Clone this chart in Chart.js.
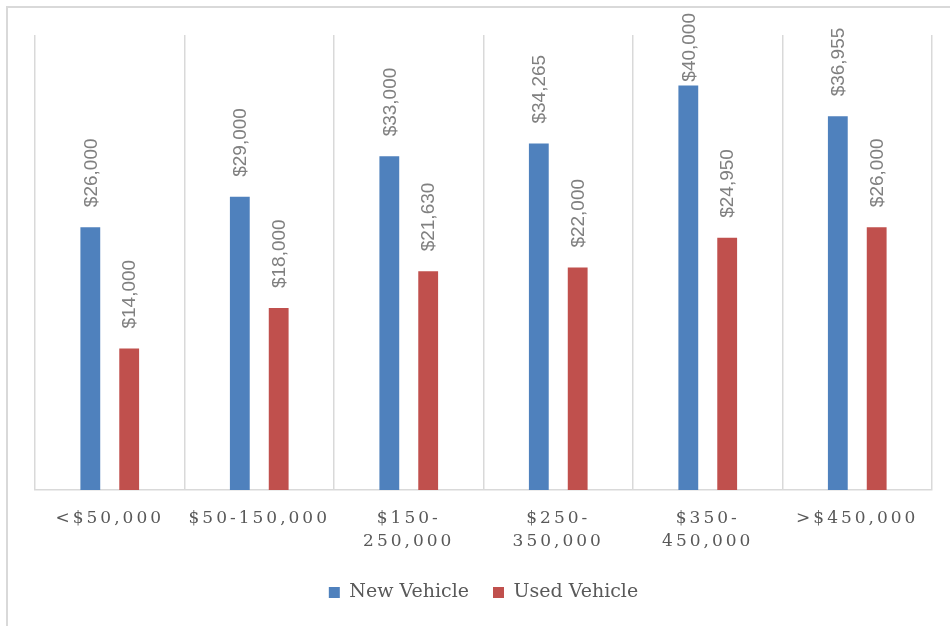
<!DOCTYPE html>
<html>
<head>
<meta charset="utf-8">
<title>Vehicle price by income</title>
<script src="https://cdn.jsdelivr.net/npm/chart.js@4/dist/chart.umd.min.js"></script>
<style>
  html, body { margin: 0; padding: 0; background: #fff; }
  #wrap { position: relative; width: 950px; height: 626px; }
</style>
</head>
<body>
<div id="wrap"><canvas id="myChart"></canvas></div>
<script>
const incomeBands = ["<$50,000", "$50-150,000", ["$150-", "250,000"], ["$250-", "350,000"], ["$350-", "450,000"], ">$450,000"];
const newVehicle = [26000, 29000, 33000, 34265, 40000, 36955];
const usedVehicle = [14000, 18000, 21630, 22000, 24950, 26000];
const seriesNames = ["New Vehicle", "Used Vehicle"];
const seriesColors = ["#4F81BD", "#C0504D"];

function money(v) {
  return "$" + v.toLocaleString("en-US");
}

// outer frame (only left + top edges are visible in the original)
const framePlugin = {
  id: "frame",
  beforeDraw: function(chart) {
    const ctx = chart.ctx;
    ctx.save();
    ctx.strokeStyle = "#d9d9d9";
    ctx.lineWidth = 2;
    ctx.beginPath();
    ctx.moveTo(7, chart.height);
    ctx.lineTo(7, 7);
    ctx.lineTo(chart.width, 7);
    ctx.stroke();
    ctx.restore();
  }
};

// spaced-out category labels like the Excel original
const spacedTicks = {
  id: "spacedTicks",
  afterUpdate: function(chart) {
    const s = chart.scales.x;
    if (!s || s._spaced) return;
    const orig = s.drawLabels;
    s.drawLabels = function(area) {
      const c = this.ctx;
      c.save();
      c.letterSpacing = "3px";
      orig.call(this, area);
      c.restore();
    };
    s._spaced = true;
  }
};

// rotated value labels above each bar
const valueLabels = {
  id: "valueLabels",
  afterDatasetsDraw: function(chart) {
    const ctx = chart.ctx;
    ctx.save();
    ctx.font = "19px 'Liberation Sans', Arial, sans-serif";
    ctx.fillStyle = "#808080";
    ctx.textAlign = "left";
    ctx.textBaseline = "middle";
    chart.data.datasets.forEach(function(ds, i) {
      chart.getDatasetMeta(i).data.forEach(function(bar, j) {
        const txt = money(ds.data[j]);
        const w = ctx.measureText(txt).width;
        let end = bar.y - 20;
        if (end - w < 13) end = 13 + w;
        ctx.save();
        ctx.translate(bar.x, end);
        ctx.rotate(-Math.PI / 2);
        ctx.fillText(txt, 0, 1);
        ctx.restore();
      });
    });
    ctx.restore();
  }
};

new Chart("myChart", {
  type: "bar",
  data: {
    labels: incomeBands,
    datasets: [{
      label: seriesNames[0],
      data: newVehicle,
      backgroundColor: seriesColors[0]
    }, {
      label: seriesNames[1],
      data: usedVehicle,
      backgroundColor: seriesColors[1]
    }]
  },
  options: {
    responsive: true,
    maintainAspectRatio: false,
    animation: false,
    datasets: {
      bar: { categoryPercentage: 0.52, barPercentage: 0.51 }
    },
    layout: {
      padding: { left: 35, right: 18, top: 35, bottom: 14 }
    },
    scales: {
      x: {
        grid: { display: true, color: "#d9d9d9", lineWidth: 1.5, drawTicks: false },
        border: { display: true, color: "#d9d9d9", width: 1.5 },
        ticks: {
          color: "#595959",
          padding: 17,
          maxRotation: 0,
          autoSkip: false,
          font: { family: "'DejaVu Serif', serif", size: 17, lineHeight: 1.35 }
        },
        afterFit: function(scale) {
          scale.height -= 11;
        }
      },
      y: {
        display: false,
        min: 0,
        max: 45000
      }
    },
    plugins: {
      legend: {
        position: "bottom",
        labels: {
          color: "#595959",
          boxWidth: 11,
          boxHeight: 11,
          padding: 24,
          font: { family: "'DejaVu Serif', serif", size: 19 }
        }
      },
      tooltip: { enabled: false }
    }
  },
  plugins: [framePlugin, spacedTicks, valueLabels]
});
</script>
</body>
</html>
